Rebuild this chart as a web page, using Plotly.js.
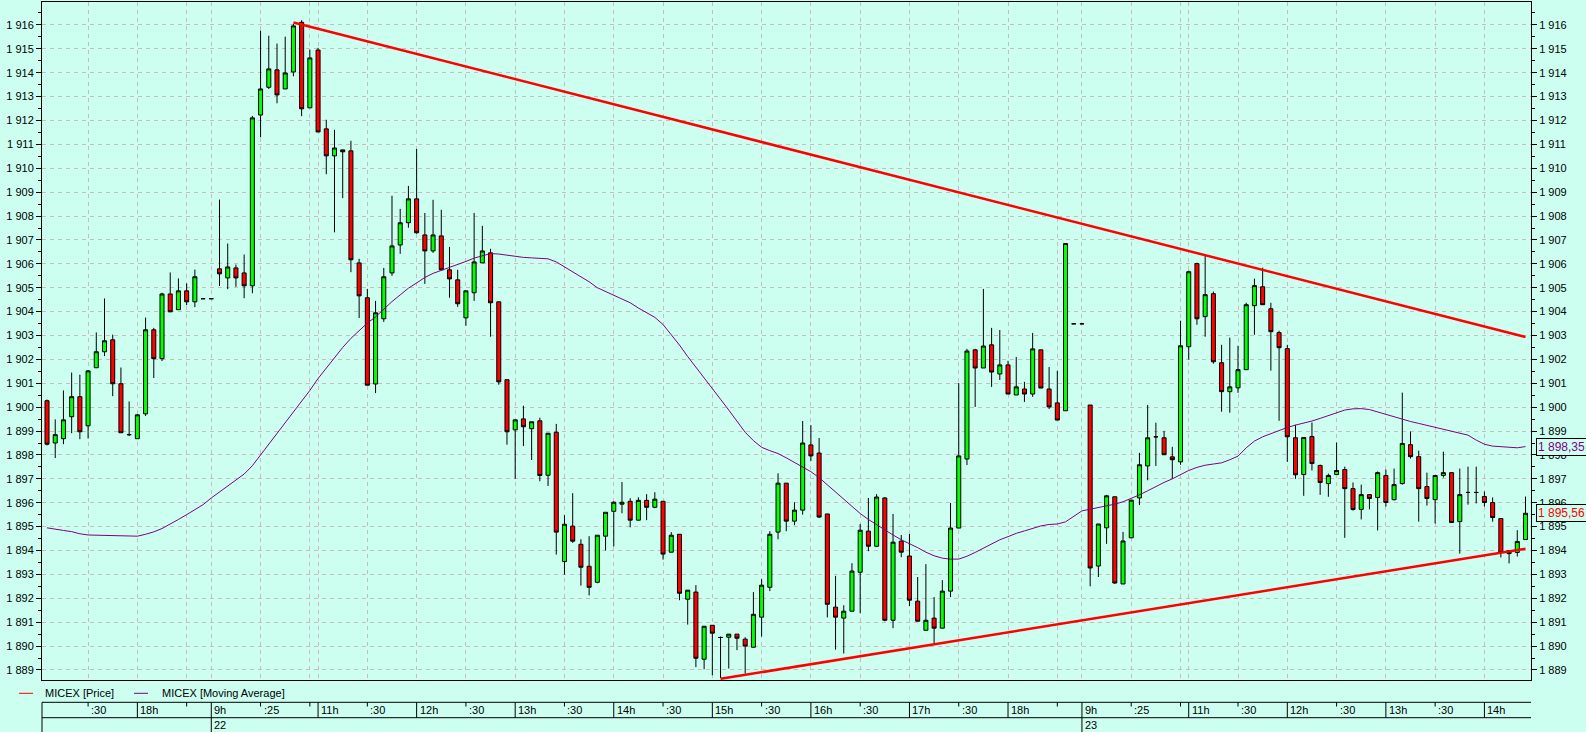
<!DOCTYPE html>
<html><head><meta charset="utf-8">
<script src="https://cdn.plot.ly/plotly-3.0.1.min.js"></script>
<style>html,body{margin:0;padding:0;background:#ccfff0;overflow:hidden}</style>
</head><body>
<div id="chart" style="width:1586px;height:732px"></div>
<script>
// ---- data (5-minute candles, MICEX) ----
const openVals = [1900.27,1898.50,1898.68,1899.60,1900.44,1899.22,1901.65,1902.32,1902.82,1900.98,
1898.85,1898.68,1899.72,1903.24,1902.03,1904.74,1904.08,1904.87,1904.41,1904.54,
1904.54,1905.79,1905.41,1905.83,1905.62,1905.08,1912.23,1913.39,1914.12,1913.32,
1914.03,1916.11,1912.53,1914.95,1911.65,1910.52,1910.77,1910.73,1906.04,1904.58,
1900.97,1903.70,1905.62,1906.79,1907.72,1908.72,1907.21,1906.54,1907.17,1905.75,
1905.33,1903.74,1904.79,1906.04,1906.46,1904.41,1901.15,1899.05,1899.51,1899.10,
1899.43,1897.15,1898.95,1893.54,1895.02,1894.26,1893.34,1892.67,1894.60,1895.64,
1895.94,1896.06,1895.27,1896.10,1895.81,1896.06,1893.93,1894.68,1891.96,1892.26,
1889.45,1890.87,1890.36,1890.37,1890.50,1890.29,1889.95,1891.21,1892.46,1894.77,
1896.82,1895.23,1895.69,1898.42,1898.08,1895.53,1891.63,1891.17,1891.46,1893.09,
1894.81,1894.18,1896.20,1891.08,1894.39,1893.77,1891.88,1890.66,1891.17,1890.75,
1892.30,1894.94,1897.83,1902.40,1901.64,1902.61,1901.39,1901.77,1900.51,1900.76,
1900.55,1902.40,1900.76,1900.18,1899.85,1903.49,1903.49,1900.09,1893.35,1894.95,
1896.25,1892.60,1894.53,1896.20,1897.54,1898.76,1898.72,1897.92,1897.71,1902.53,
1906.01,1903.79,1904.75,1901.86,1900.65,1900.81,1901.57,1904.25,1905.04,1904.12,
1903.12,1902.45,1898.72,1897.18,1898.77,1897.56,1896.80,1897.18,1897.39,1896.59,
1895.72,1896.34,1896.22,1897.14,1896.13,1896.80,1898.43,1897.93,1896.68,1896.13,
1897.14,1897.26,1895.21,1896.43,1896.43,1896.26,1896.01,1895.34,1894.00,1893.92,
1894.46];
const highVals = [1900.32,1899.49,1900.70,1901.45,1901.36,1901.55,1903.13,1904.55,1903.04,1901.66,
1900.24,1899.70,1903.75,1903.32,1904.79,1905.64,1905.39,1905.18,1905.76,1904.54,
1904.54,1908.69,1906.85,1905.97,1906.39,1912.19,1915.76,1915.55,1915.22,1915.51,
1916.04,1916.20,1914.97,1915.04,1912.03,1911.61,1910.77,1911.15,1906.21,1904.95,
1904.45,1905.83,1908.85,1908.30,1909.26,1910.81,1908.13,1908.68,1908.26,1906.71,
1905.75,1904.87,1908.13,1907.59,1906.63,1904.41,1901.15,1899.47,1900.06,1899.39,
1899.56,1898.91,1899.30,1895.48,1896.40,1894.47,1894.60,1894.64,1895.60,1896.06,
1896.87,1896.19,1896.23,1896.36,1896.44,1896.06,1894.77,1894.68,1892.34,1892.55,
1890.83,1890.87,1890.40,1890.50,1890.50,1890.37,1892.26,1892.80,1894.81,1897.23,
1896.82,1896.02,1899.42,1899.25,1898.71,1895.53,1892.94,1891.71,1893.47,1895.11,
1896.20,1896.36,1896.24,1895.53,1894.65,1894.69,1892.89,1893.43,1892.05,1892.76,
1895.99,1901.01,1902.44,1902.44,1904.95,1903.32,1903.23,1901.94,1902.10,1901.06,
1903.11,1902.40,1901.68,1901.52,1906.85,1903.49,1903.49,1900.09,1895.11,1896.33,
1896.25,1894.78,1896.11,1898.09,1900.09,1899.35,1899.01,1898.34,1903.62,1905.72,
1906.05,1906.39,1904.84,1902.61,1902.91,1902.57,1904.37,1905.38,1905.84,1904.37,
1903.20,1902.61,1899.26,1898.73,1899.36,1897.60,1897.22,1898.52,1897.51,1896.85,
1896.76,1896.34,1897.31,1897.39,1897.43,1900.61,1898.98,1898.18,1897.26,1897.14,
1898.14,1897.26,1897.43,1897.51,1897.51,1896.47,1896.22,1895.34,1894.00,1894.85,
1896.26];
const lowVals = [1898.40,1897.87,1898.45,1898.91,1898.66,1898.69,1901.65,1902.14,1900.46,1898.93,
1898.79,1898.68,1899.63,1901.22,1901.93,1903.99,1904.08,1904.27,1904.19,1904.54,
1904.54,1905.07,1904.94,1905.04,1904.56,1904.77,1911.30,1913.32,1912.72,1913.32,
1913.85,1912.18,1912.53,1911.52,1909.75,1907.32,1908.75,1905.65,1903.73,1900.92,
1900.59,1903.57,1905.50,1906.42,1907.51,1907.26,1905.16,1906.46,1905.75,1904.58,
1904.20,1903.41,1904.45,1906.04,1902.95,1900.94,1898.43,1897.00,1898.37,1897.79,
1896.90,1896.70,1893.83,1892.99,1894.32,1892.53,1892.12,1892.63,1894.00,1894.17,
1895.56,1894.97,1895.27,1895.27,1895.77,1893.62,1893.93,1891.92,1890.90,1889.12,
1889.03,1888.78,1888.66,1889.06,1889.83,1888.85,1889.95,1890.40,1892.30,1894.47,
1894.81,1895.06,1895.50,1897.75,1895.36,1891.20,1889.85,1889.69,1891.46,1891.38,
1893.97,1894.14,1891.04,1890.75,1893.72,1891.67,1891.04,1890.66,1890.08,1890.75,
1892.05,1894.94,1897.58,1900.01,1901.64,1900.85,1901.14,1900.55,1900.51,1900.22,
1900.43,1900.80,1899.92,1899.46,1899.85,1903.49,1903.49,1892.50,1892.89,1894.28,
1892.60,1892.60,1894.53,1895.90,1896.94,1897.54,1898.01,1897.00,1897.59,1901.99,
1903.45,1902.95,1901.82,1899.81,1899.77,1900.60,1901.57,1903.03,1904.29,1901.53,
1899.43,1897.71,1897.00,1896.29,1897.35,1896.33,1896.25,1897.18,1894.53,1895.67,
1895.30,1895.72,1894.84,1895.84,1896.09,1896.76,1897.85,1895.21,1895.88,1895.13,
1897.05,1895.17,1893.87,1895.92,1895.97,1895.84,1895.21,1893.71,1893.46,1893.75,
1894.46];
const closeVals = [1898.45,1898.85,1899.47,1900.44,1898.97,1901.52,1902.32,1902.78,1900.98,1898.93,
1898.85,1899.68,1903.24,1902.03,1904.74,1903.99,1904.87,1904.41,1905.46,1904.54,
1904.54,1905.58,1905.87,1905.41,1905.08,1912.11,1913.32,1914.16,1913.07,1913.99,
1915.96,1912.49,1914.62,1911.52,1910.52,1910.85,1910.69,1906.17,1904.66,1900.92,
1903.95,1905.46,1906.75,1907.72,1908.72,1907.30,1906.54,1907.21,1905.75,1905.37,
1904.33,1904.87,1906.08,1906.54,1904.37,1901.06,1898.97,1899.47,1899.18,1899.39,
1897.14,1898.91,1894.77,1895.10,1894.39,1893.30,1892.46,1894.64,1895.60,1896.02,
1896.02,1895.27,1896.10,1895.81,1896.15,1893.85,1894.64,1892.21,1892.34,1889.49,
1890.83,1890.54,1890.36,1890.50,1890.33,1890.00,1891.33,1892.55,1894.68,1896.82,
1895.23,1895.69,1898.50,1897.96,1895.40,1891.75,1891.21,1891.46,1893.14,1894.85,
1894.18,1896.24,1891.08,1894.35,1893.93,1891.92,1891.04,1891.08,1890.75,1892.30,
1894.94,1897.96,1902.35,1901.64,1902.56,1901.47,1901.77,1900.55,1900.85,1900.55,
1902.44,1900.80,1900.01,1899.46,1906.85,1903.49,1903.49,1893.27,1895.11,1896.29,
1892.64,1894.40,1896.11,1897.59,1898.72,1898.76,1898.01,1897.80,1902.57,1905.67,
1903.70,1904.71,1901.90,1900.65,1900.85,1901.57,1904.29,1905.09,1904.29,1903.16,
1902.49,1898.76,1897.17,1898.73,1897.64,1896.85,1897.14,1897.35,1896.59,1895.72,
1896.34,1896.18,1897.26,1896.01,1896.76,1898.48,1897.93,1896.59,1896.18,1897.14,
1897.26,1895.17,1896.34,1896.43,1896.43,1896.01,1895.38,1893.92,1893.87,1894.38,
1895.56];
const maVals = [1894.95,1894.88,1894.84,1894.79,1894.70,1894.65,1894.64,1894.63,1894.63,1894.60,
1894.60,1894.60,1894.68,1894.78,1894.92,1895.10,1895.30,1895.50,1895.70,1895.92,
1896.20,1896.45,1896.72,1896.98,1897.20,1897.55,1898.00,1898.42,1898.85,1899.30,
1899.75,1900.20,1900.70,1901.20,1901.65,1902.10,1902.50,1902.88,1903.22,1903.52,
1903.78,1904.12,1904.42,1904.70,1904.98,1905.20,1905.43,1905.60,1905.72,1905.84,
1905.96,1906.10,1906.24,1906.35,1906.43,1906.41,1906.36,1906.30,1906.27,1906.25,
1906.23,1906.21,1906.08,1905.88,1905.65,1905.45,1905.25,1905.00,1904.85,1904.68,
1904.52,1904.37,1904.15,1903.95,1903.76,1903.46,1903.05,1902.60,1902.12,1901.66,
1901.22,1900.78,1900.33,1899.88,1899.40,1898.95,1898.60,1898.32,1898.18,1898.06,
1897.88,1897.68,1897.50,1897.30,1897.05,1896.75,1896.48,1896.15,1895.85,1895.55,
1895.30,1895.08,1894.85,1894.65,1894.45,1894.30,1894.12,1893.93,1893.78,1893.68,
1893.64,1893.64,1893.76,1893.92,1894.10,1894.26,1894.45,1894.58,1894.72,1894.82,
1894.92,1895.03,1895.09,1895.11,1895.20,1895.42,1895.66,1895.73,1895.79,1895.86,
1895.94,1896.04,1896.17,1896.33,1896.50,1896.68,1896.85,1897.00,1897.18,1897.35,
1897.48,1897.57,1897.62,1897.67,1897.80,1897.95,1898.30,1898.58,1898.76,1898.90,
1899.04,1899.15,1899.25,1899.33,1899.42,1899.53,1899.65,1899.78,1899.88,1899.93,
1899.94,1899.90,1899.80,1899.68,1899.58,1899.50,1899.40,1899.32,1899.24,1899.16,
1899.07,1898.97,1898.90,1898.83,1898.62,1898.45,1898.37,1898.35,1898.34,1898.30,
1898.35];
// trend lines (candle index, price)
const upperTrendX = [30, 180];
const upperTrendY = [1916.10, 1902.94];
const lowerTrendX = [82, 180];
const lowerTrendY = [1888.63, 1894.07];
// time axis: candle index of each tick and its label
const tickIdx = [5,11,17,20,26,32,33,39,45,51,57,63,69,75,81,87,93,99,105,111,117,123,126,132,138,139,145,151,157,163,169,175];
const tickText = [':30','18h','','9h',':25','','11h',':30','12h',':30','13h',':30','14h',':30','15h',':30','16h',':30','17h',':30','18h','','9h',':25','','11h',':30','12h',':30','13h',':30','14h'];
const dayIdx = [20, 126];
const dayText = ['22', '23'];
const legendNames = ['MICEX [Price]', 'MICEX [Moving Average]'];

// ---- styling / layout ----
const BG = '#ccfff0';
const GRID = '#c8bcbc';
const FONT = 'Liberation Sans, Arial, sans-serif';
const L = 42, T = 2, W = 1489, H = 678;
const py = p => (T + H - p) / H;
const px = p => (p - L) / W;

const candleIdx = openVals.map((_, i) => i);

const traces = [
  {
    type: 'candlestick', x: candleIdx, open: openVals, high: highVals, low: lowVals, close: closeVals,
    increasing: {line: {color: '#000000', width: 1}, fillcolor: '#00ff00'},
    decreasing: {line: {color: '#000000', width: 1}, fillcolor: '#ff0000'},
    whiskerwidth: 0, showlegend: false, hoverinfo: 'skip', name: legendNames[0]
  },
  {type: 'scatter', mode: 'lines', x: upperTrendX, y: upperTrendY, line: {color: '#ff0000', width: 2.5}, showlegend: false, hoverinfo: 'skip'},
  {type: 'scatter', mode: 'lines', x: lowerTrendX, y: lowerTrendY, line: {color: '#ff0000', width: 2.5}, showlegend: false, hoverinfo: 'skip'},
  {type: 'scatter', mode: 'lines', x: candleIdx, y: maVals, yaxis: 'y2', line: {color: '#800080', width: 1}, showlegend: false, hoverinfo: 'skip', name: legendNames[1]}
];

const yRange = [1888.58, 1916.96];
const yCommon = {
  range: yRange, dtick: 1, tick0: 0, tickformat: ',d',
  ticks: 'outside', ticklen: 5, tickwidth: 1, tickcolor: '#000000',
  minor: {dtick: 0.5, ticks: 'outside', ticklen: 3, tickcolor: '#000000', showgrid: false},
  showline: true, linecolor: '#000000', linewidth: 1,
  tickfont: {family: FONT, size: 11, color: '#000000'}, zeroline: false, fixedrange: true
};

const shapes = [];
const annotations = [];
// bottom time table
[702.3, 717.7].forEach(yy => shapes.push({type: 'line', xref: 'paper', yref: 'paper', x0: 0, x1: 1, y0: py(yy), y1: py(yy), line: {color: '#000000', width: 1}}));
shapes.push({type: 'line', xref: 'paper', yref: 'paper', x0: 0, x1: 0, y0: py(702.3), y1: py(732), line: {color: '#000000', width: 1}});
tickIdx.forEach((ix, k) => {
  const txt = tickText[k];
  const isDay = dayIdx.includes(ix);
  const isHour = /h$/.test(txt);
  const yEnd = isDay ? 732 : (isHour ? 717.7 : 706.5);
  shapes.push({type: 'line', xref: 'x', yref: 'paper', x0: ix, x1: ix, y0: py(702.3), y1: py(yEnd), line: {color: '#000000', width: 1}});
  if (txt) annotations.push({xref: 'x', yref: 'paper', x: ix, y: py(710), xanchor: 'left', yanchor: 'middle', xshift: 1, text: txt, showarrow: false, font: {family: FONT, size: 11, color: '#000000'}});
});
dayIdx.forEach((ix, k) => annotations.push({xref: 'x', yref: 'paper', x: ix, y: py(725), xanchor: 'left', yanchor: 'middle', xshift: 1, text: dayText[k], showarrow: false, font: {family: FONT, size: 11, color: '#000000'}}));
// legend
const legColors = ['#ff0000', '#800080'];
const legSw = [[19, 33, 43], [134, 148, 160]];
legendNames.forEach((nm, k) => {
  shapes.push({type: 'line', xref: 'paper', yref: 'paper', x0: px(legSw[k][0]), x1: px(legSw[k][1]), y0: py(693.3), y1: py(693.3), line: {color: legColors[k], width: 1}});
  annotations.push({xref: 'paper', yref: 'paper', x: px(legSw[k][2]), y: py(693.3), xanchor: 'left', yanchor: 'middle', text: nm, showarrow: false, font: {family: FONT, size: 11, color: '#000000'}});
});
// last-value boxes on the right axis
const fmt = v => { const s = v.toFixed(2).split('.'); return s[0].replace(/\B(?=(\d{3})+(?!\d))/g, ' ') + ',' + s[1]; };
const lastMA = maVals[maVals.length - 1];
const lastClose = closeVals[closeVals.length - 1];
[[lastMA, '#800080'], [lastClose, '#ff0000']].forEach(([v, c]) => annotations.push({
  xref: 'paper', yref: 'y', x: px(1536), y: v, xanchor: 'left', yanchor: 'middle', text: fmt(v), showarrow: false,
  font: {family: FONT, size: 12, color: c}, bgcolor: BG, bordercolor: '#000000', borderwidth: 1, borderpad: 1
}));

const layout = {
  width: 1586, height: 732,
  margin: {l: L, r: 1586 - L - W, t: T, b: 732 - T - H, pad: 0},
  paper_bgcolor: BG, plot_bgcolor: BG,
  separators: ', ',
  showlegend: false,
  font: {family: FONT, size: 11, color: '#000000'},
  xaxis: {
    range: [-0.61, 180.67], tickmode: 'array', tickvals: tickIdx, ticktext: tickText,
    showticklabels: false, ticks: '', showgrid: true, gridcolor: GRID, griddash: '4px,4px', gridwidth: 1,
    showline: true, mirror: true, linecolor: '#000000', linewidth: 1, zeroline: false,
    rangeslider: {visible: false}, fixedrange: true
  },
  yaxis: Object.assign({}, yCommon, {side: 'left', showgrid: true, gridcolor: GRID, griddash: '4px,4px', gridwidth: 1}),
  yaxis2: Object.assign({}, yCommon, {side: 'right', overlaying: 'y', matches: 'y', showgrid: false}),
  boxgap: 0.3,
  shapes: shapes, annotations: annotations
};

Plotly.newPlot('chart', traces, layout, {displayModeBar: false, staticPlot: true});
</script>
</body></html>
